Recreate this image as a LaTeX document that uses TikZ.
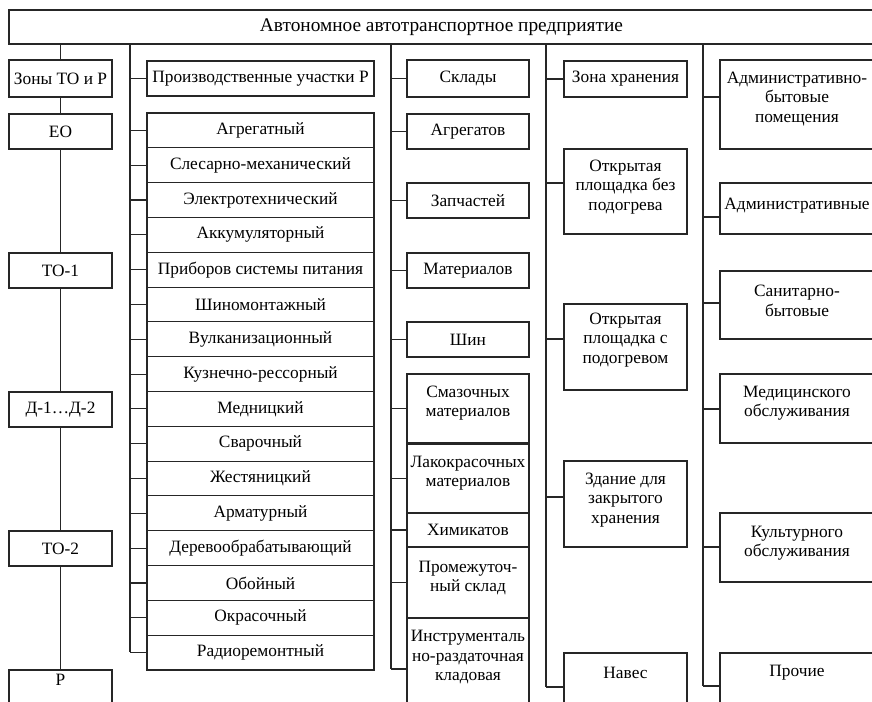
\documentclass[tikz,border=0pt]{standalone}
\usepackage{fontspec}
\setmainfont{Liberation Serif}
\usetikzlibrary{calc}
\newcommand\mkbox[6]{\node[box, txt, minimum width={(#4-#2)*0.75pt}, minimum height={(#5-#3)*0.75pt}] (#1) at ({(#2+#4)/2},{(#3+#5)/2}) {#6};}
\newcommand\mkboxt[7]{\node[box, minimum width={(#4-#2)*0.75pt}, minimum height={(#5-#3)*0.75pt}] (#1) at ({(#2+#4)/2},{(#3+#5)/2}) {};
  \node[txt] (#1t) at ({(#2+#4)/2},#6) {#7};}
\begin{document}
\begin{tikzpicture}[x=0.75pt,y=-0.75pt,
  box/.style={draw=black!85, line width=0.8pt, fill=white, inner sep=0pt},
  txt/.style={font=\fontsize{13}{14.5}\selectfont, align=center, inner sep=0pt},
  link/.style={draw=black!85, line width=0.8pt}]
\useasboundingbox (0,0) rectangle (872,702);
\fill[white] (0,0) rectangle (872,702);
\begin{scope}
\clip (0,0) rectangle (872,702);
% spine coordinates
\coordinate (s2) at (130,44);
\coordinate (s3) at (391,44);
\coordinate (s4) at (546,44);
\coordinate (s5) at (703,44);
% spines
\draw[link] (s2) -- (130,652);
\draw[link] (s3) -- (391,669);
\draw[link] (s4) -- (546,687);
\draw[link] (s5) -- (703,686);
% top
\mkbox{top}{9}{10}{874}{44}{\fontsize{14.5}{16}\selectfont Автономное автотранспортное предприятие}
% column 1
\mkbox{zony}{9}{60}{112}{97}{Зоны ТО и Р}
\mkbox{eo}{9}{114}{112}{149}{ЕО}
\mkbox{toa}{9}{253}{112}{288}{ТО-1}
\mkbox{dd}{9}{392}{112}{427}{Д-1…Д-2}
\mkbox{tob}{9}{531}{112}{566}{ТО-2}
\mkboxt{rr}{9}{670}{112}{730}{680}{Р}
\draw[link] (top.south -| zony.north) -- (zony.north);
\draw[link] (zony.south) -- (eo.north);
\draw[link] (eo.south) -- (toa.north);
\draw[link] (toa.south) -- (dd.north);
\draw[link] (dd.south) -- (tob.north);
\draw[link] (tob.south) -- (rr.north);
% column 2
\mkbox{pr}{147}{61}{374}{96}{Производственные участки Р}
\draw[link] (s2 |- pr.west) -- (pr.west);
\foreach \t [count=\i from 0] in {Агрегатный,Слесарно-механический,Электротехнический,Аккумуляторный,Приборов системы питания,Шиномонтажный,Вулканизационный,Кузнечно-рессорный,Медницкий,Сварочный,Жестяницкий,Арматурный,Деревообрабатывающий,Обойный,Окрасочный,Радиоремонтный}{
  \pgfmathsetmacro\ya{113+\i*34.8125}
  \pgfmathsetmacro\yb{\ya+34.8125}
  \mkbox{r\i}{147}{\ya}{374}{\yb}{\t}
  \draw[link] (s2 |- r\i.west) -- (r\i.west);
}
% column 3
\mkbox{sk}{407}{60}{529}{97}{Склады}
\mkbox{agr}{407}{114}{529}{149}{Агрегатов}
\mkbox{zap}{407}{183}{529}{218}{Запчастей}
\mkbox{mat}{407}{253}{529}{288}{Материалов}
\mkbox{shin}{407}{322}{529}{357}{Шин}
\mkboxt{smaz}{407}{374}{529}{443}{403}{Смазочных\\материалов}
\mkboxt{lak}{407}{444}{529}{513}{473}{Лакокрасочных\\материалов}
\mkbox{khim}{407}{513}{529}{547}{Химикатов}
\mkboxt{prom}{407}{547}{529}{618}{578}{Промежуточ-\\ный склад}
\mkboxt{instr}{407}{618}{529}{720}{657}{Инструменталь\\но-раздаточная\\кладовая}
\foreach \n in {sk,agr,zap,mat,shin,smaz,lak,khim,prom,instr}{
  \draw[link] (s3 |- \n.west) -- (\n.west);
}
% column 4
\mkbox{zona}{564}{61}{687}{97}{Зона хранения}
\mkboxt{ob}{564}{149}{687}{234}{187}{Открытая\\площадка без\\подогрева}
\mkboxt{op}{564}{304}{687}{390}{340}{Открытая\\площадка с\\подогревом}
\mkboxt{zd}{564}{461}{687}{547}{500}{Здание для\\закрытого\\хранения}
\mkboxt{nav}{564}{653}{687}{730}{673}{Навес}
\draw[link] (s4 |- zona.west) -- (zona.west);
\draw[link] (s4 |- 0,183) -- (ob.west |- 0,183);
\draw[link] (s4 |- 0,339) -- (op.west |- 0,339);
\draw[link] (s4 |- 0,497) -- (zd.west |- 0,497);
\draw[link] (s4 |- 0,687) -- (nav.west |- 0,687);
% column 5
\mkboxt{ab}{720}{60}{874}{149}{99}{Административно-\\бытовые\\помещения}
\mkboxt{adm}{720}{183}{874}{234}{206}{Административные}
\mkboxt{san}{720}{271}{874}{339}{301}{Санитарно-\\бытовые}
\mkboxt{med}{720}{374}{874}{443}{403}{Медицинского\\обслуживания}
\mkboxt{kul}{720}{513}{874}{582}{543}{Культурного\\обслуживания}
\mkboxt{pro}{720}{653}{874}{730}{673}{Прочие}
\draw[link] (s5 |- 0,97) -- (ab.west |- 0,97);
\draw[link] (s5 |- 0,217) -- (adm.west |- 0,217);
\draw[link] (s5 |- 0,303) -- (san.west |- 0,303);
\draw[link] (s5 |- 0,409) -- (med.west |- 0,409);
\draw[link] (s5 |- 0,547) -- (kul.west |- 0,547);
\draw[link] (s5 |- 0,686) -- (pro.west |- 0,686);
\end{scope}
\end{tikzpicture}
\end{document}
